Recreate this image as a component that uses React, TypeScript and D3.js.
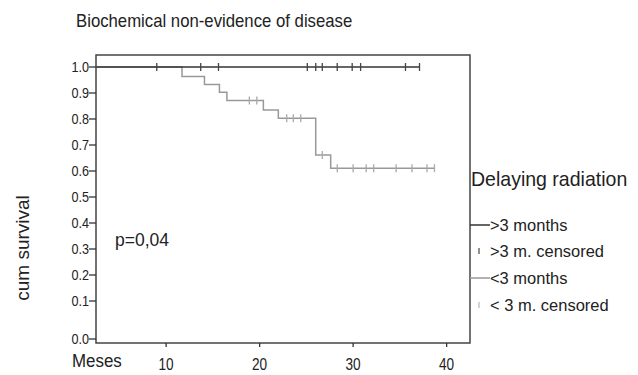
import * as d3 from "d3";
import { useEffect, useRef } from "react";

// >3 months group: no events, only censored cases
const longCensored = [9, 13.7, 15.6, 25.1, 26.0, 26.7, 28.3, 29.9, 30.8, 35.6, 37.1];
const longEnd = 37.1;

// <3 months group: event times and survival after each step
const shortEventTimes = [11.7, 14.1, 15.7, 16.5, 20.4, 22.0, 26.0, 27.6];
const shortSurvival = [0.963, 0.933, 0.903, 0.871, 0.835, 0.803, 0.662, 0.611];
const shortCensored = [18.9, 19.7, 22.9, 23.6, 24.4, 26.7, 28.3, 30.0, 31.4, 32.2, 34.6, 36.3, 37.9, 38.7];
const shortEnd = 38.7;

const yTicks = [0, 0.1, 0.2, 0.3, 0.4, 0.5, 0.6, 0.7, 0.8, 0.9, 1.0];
const xTicks = [10, 20, 30, 40];

const legendItems = [
    { label: ">3 months", kind: "line", color: "#333" },
    { label: ">3 m. censored", kind: "tick", color: "#555" },
    { label: "<3 months", kind: "line", color: "#999" },
    { label: "< 3 m. censored", kind: "tick", color: "#bbb" },
];

const FONT = "'Liberation Sans', Arial, sans-serif";

const App = () => {
    const svgRef = useRef<SVGSVGElement | null>(null);

    useEffect(() => {
        const svg = d3.select(svgRef.current);
        svg.selectAll("*").remove();

        const left = 96, right = 470, top = 55, bottom = 343;

        const x = d3.scaleLinear().domain([2.5, 42.5]).range([left, right]);
        // SPSS puts extra room below 0.1
        const y = d3.scaleLinear().domain([0, 0.1, 1]).range([339, 301, 67]);

        const txt = (s: string, tx: number, ty: number, size: number, sx = 1, anchor = "start") =>
            svg.append("text")
                .attr("transform", `translate(${tx},${ty}) scale(${sx},1)`)
                .attr("font-family", FONT)
                .attr("font-size", size)
                .attr("fill", "#222")
                .attr("text-anchor", anchor)
                .text(s);

        // title
        txt("Biochemical non-evidence of disease", 76, 27, 18, 0.93);

        // frame
        svg.append("rect")
            .attr("x", left).attr("y", top)
            .attr("width", right - left).attr("height", bottom - top)
            .attr("fill", "none").attr("stroke", "#444").attr("stroke-width", 1.5);

        // y ticks
        yTicks.forEach(t => {
            svg.append("line")
                .attr("x1", 89).attr("x2", left)
                .attr("y1", y(t)).attr("y2", y(t))
                .attr("stroke", "#333").attr("stroke-width", 1.3);
            txt(t.toFixed(1), 89, y(t) + 5, 14.5, 0.87, "end");
        });

        // x ticks
        xTicks.forEach(t => {
            svg.append("line")
                .attr("x1", x(t)).attr("x2", x(t))
                .attr("y1", bottom).attr("y2", bottom + 4)
                .attr("stroke", "#333").attr("stroke-width", 1.3);
            txt(String(t), x(t), 370, 16, 0.85, "middle");
        });

        txt("Meses", 72, 367, 19, 0.89);

        svg.append("text")
            .attr("transform", "translate(29,248) rotate(-90)")
            .attr("font-family", FONT)
            .attr("font-size", 19)
            .attr("fill", "#222")
            .attr("text-anchor", "middle")
            .text("cum survival");

        txt("p=0,04", 115, 246, 17.5);

        const stepLine = d3.line<[number, number]>()
            .x(d => x(d[0]))
            .y(d => y(d[1]))
            .curve(d3.curveStepAfter);

        // <3 months curve
        const shortPts: [number, number][] = [[x.domain()[0], 1]];
        shortEventTimes.forEach((t, i) => shortPts.push([t, shortSurvival[i]]));
        shortPts.push([shortEnd, shortSurvival[shortSurvival.length - 1]]);
        svg.append("path")
            .attr("d", stepLine(shortPts))
            .attr("fill", "none").attr("stroke", "#999").attr("stroke-width", 1.5);

        const survAt = (t: number) => {
            let s = 1;
            shortEventTimes.forEach((e, i) => { if (e <= t) s = shortSurvival[i]; });
            return s;
        };
        shortCensored.forEach(t => {
            svg.append("line")
                .attr("x1", x(t)).attr("x2", x(t))
                .attr("y1", y(survAt(t)) - 4).attr("y2", y(survAt(t)) + 4)
                .attr("stroke", "#aaa").attr("stroke-width", 1.3);
        });

        // >3 months curve
        svg.append("path")
            .attr("d", stepLine([[x.domain()[0], 1], [longEnd, 1]]))
            .attr("fill", "none").attr("stroke", "#333").attr("stroke-width", 1.5);
        longCensored.forEach(t => {
            svg.append("line")
                .attr("x1", x(t)).attr("x2", x(t))
                .attr("y1", y(1) - 4).attr("y2", y(1) + 4)
                .attr("stroke", "#444").attr("stroke-width", 1.3);
        });

        // legend
        txt("Delaying radiation", 471, 186, 21, 0.93);
        const legY = [225, 251, 278, 305];
        legendItems.forEach((d, i) => {
            if (d.kind === "line") {
                svg.append("line")
                    .attr("x1", right).attr("x2", 490)
                    .attr("y1", legY[i]).attr("y2", legY[i])
                    .attr("stroke", d.color).attr("stroke-width", 1.5);
            } else {
                svg.append("line")
                    .attr("x1", 479).attr("x2", 479)
                    .attr("y1", legY[i] - 3).attr("y2", legY[i] + 3)
                    .attr("stroke", d.color).attr("stroke-width", 1.3);
            }
            txt(d.label, 490, legY[i] + 6, 17, 0.97);
        });
    }, []);

    return (
        <svg
            ref={svgRef}
            width={638}
            height={375}
            style={{ position: "absolute", left: 0, top: 0, background: "#fff" }}
        ></svg>
    );
};

export default App;
